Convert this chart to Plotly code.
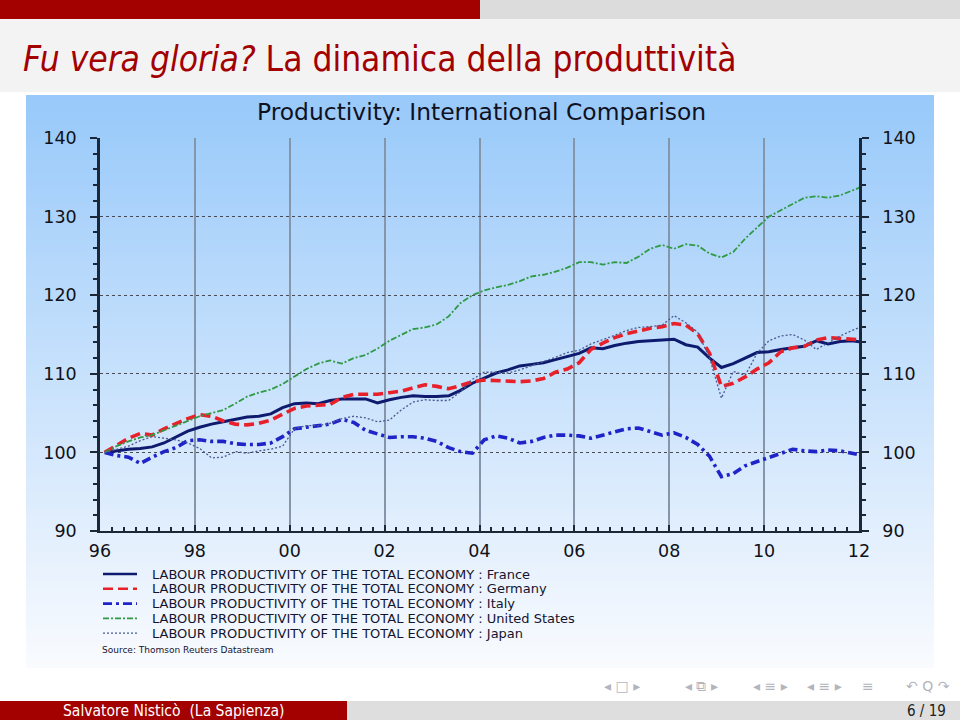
import plotly.graph_objects as go

# ---------------- data ----------------
quarters = [1996.1 + 0.25 * k for k in range(65)]

france = [100.0, 100.2, 100.4, 100.5, 100.7, 101.2, 102.0, 102.7, 103.2, 103.6,
          103.9, 104.2, 104.5, 104.6, 104.9, 105.7, 106.2, 106.3, 106.2, 106.6,
          106.8, 106.8, 106.8, 106.3, 106.7, 107.0, 107.2, 107.1, 107.1, 107.2,
          107.9, 108.8, 109.5, 110.1, 110.5, 111.0, 111.2, 111.4, 111.8, 112.2,
          112.6, 113.3, 113.2, 113.6, 113.9, 114.1, 114.2, 114.3,
          114.4, 113.7, 113.4, 112.0, 110.8, 111.3, 112.0, 112.7, 112.8, 113.1,
          113.3, 113.5, 114.2, 113.8, 114.1, 114.2, 114.0]

germany = [100.0, 100.9, 101.8, 102.4, 102.2, 103.0, 103.7, 104.3, 104.8, 104.6,
           104.0, 103.6, 103.5, 103.7, 104.1, 104.8, 105.6, 105.9, 106.0, 106.1,
           107.0, 107.4, 107.4, 107.4, 107.6, 107.8, 108.2, 108.6, 108.4, 108.1,
           108.5, 109.0, 109.2, 109.1, 109.1, 109.0, 109.1, 109.4, 110.2, 110.6,
           111.4, 113.1, 113.9, 114.6, 115.1, 115.5, 115.8, 116.0,
           116.4, 116.2, 115.1, 112.6, 108.4, 108.8, 109.6, 110.6, 111.4, 112.8,
           113.3, 113.5, 114.3, 114.6, 114.5, 114.5, 114.3]

italy = [100.0, 99.6, 99.4, 98.6, 99.4, 100.1, 100.6, 101.5, 101.6, 101.4,
         101.4, 101.1, 101.0, 101.0, 101.2, 102.0, 103.0, 103.2, 103.3, 103.6,
         104.2, 103.8, 102.8, 102.4, 101.9, 102.0, 102.0, 101.8, 101.4, 100.6,
         100.1, 99.9, 101.6, 102.1, 101.8, 101.2, 101.4, 101.9, 102.2, 102.2,
         102.1, 101.8, 102.2, 102.7, 103.0, 103.1, 102.6, 102.2,
         102.5, 101.9, 101.0, 99.5, 96.9, 97.3, 98.3, 98.8, 99.3, 99.8,
         100.4, 100.2, 100.1, 100.3, 100.2, 99.9, 99.6]

united_states = [100.0, 100.8, 101.4, 101.9, 102.2, 102.8, 103.5, 104.1, 104.6, 105.0,
                 105.4, 106.2, 107.1, 107.6, 108.0, 108.7, 109.6, 110.6, 111.3, 111.7,
                 111.3, 112.0, 112.4, 113.2, 114.2, 115.0, 115.7, 115.9, 116.3, 117.3,
                 119.0, 120.0, 120.6, 121.0, 121.3, 121.8, 122.4, 122.6, 123.0, 123.5,
                 124.2, 124.2, 123.9, 124.2, 124.1, 124.9, 125.9, 126.4,
                 125.9, 126.5, 126.3, 125.3, 124.8, 125.5, 127.2, 128.6, 130.0, 130.8,
                 131.6, 132.4, 132.6, 132.4, 132.7, 133.3, 133.9]

japan = [100.0, 100.4, 100.8, 101.5, 102.0, 101.8, 101.6, 101.2, 100.5, 99.3,
         99.4, 100.1, 99.9, 100.2, 100.4, 100.8, 103.0, 103.4, 103.4, 103.7,
         104.3, 104.6, 104.4, 103.9, 104.1, 105.4, 106.4, 106.7, 106.6, 106.6,
         107.7, 109.3, 110.2, 110.2, 110.1, 110.5, 111.0, 111.5, 112.1, 112.7,
         113.0, 113.8, 114.3, 114.9, 115.5, 115.9, 116.0, 116.2,
         117.4, 116.5, 115.3, 112.0, 106.9, 110.3, 109.8, 112.6, 114.2, 114.8,
         115.0, 114.3, 113.1, 114.0, 114.8, 115.5, 116.1]

series_names = ["LABOUR PRODUCTIVITY OF THE TOTAL ECONOMY : France",
                "LABOUR PRODUCTIVITY OF THE TOTAL ECONOMY : Germany",
                "LABOUR PRODUCTIVITY OF THE TOTAL ECONOMY : Italy",
                "LABOUR PRODUCTIVITY OF THE TOTAL ECONOMY : United States",
                "LABOUR PRODUCTIVITY OF THE TOTAL ECONOMY : Japan"]

x_tick_vals = [1996, 1998, 2000, 2002, 2004, 2006, 2008, 2010, 2012]
x_tick_text = ["96", "98", "00", "02", "04", "06", "08", "10", "12"]
y_tick_vals = [90, 100, 110, 120, 130, 140]

slide_title_it = "Fu vera gloria?"
slide_title = "La dinamica della produttività"
chart_title = "Productivity: International Comparison"
source_text = "Source: Thomson Reuters Datastream"
footer_author = "Salvatore Nisticò  (La Sapienza)"
footer_page = "6 / 19"

# ---------------- styles ----------------
styles = [
    dict(color="#0e1a6e", width=3.0, dash="solid"),
    dict(color="#e8202a", width=3.6, dash="10px,5px"),
    dict(color="#1f24c8", width=3.6, dash="9px,4px,3px,4px"),
    dict(color="#2f9a44", width=1.8, dash="6px,2px,2px,2px"),
    dict(color="#4a5a92", width=1.3, dash="2px,2px"),
]

W, H = 960, 720
L, R, T, B = 100, 859, 138, 531


def fx(x):
    return (x - L) / (R - L)


def fy(y):
    return (B - y) / (B - T)


fig = go.Figure()
all_series = [france, germany, italy, united_states, japan]
for name, vals, st in zip(series_names, all_series, styles):
    fig.add_trace(go.Scatter(x=quarters, y=vals, mode="lines", name=name,
                             line=dict(color=st["color"], width=st["width"], dash=st["dash"]),
                             showlegend=False, hoverinfo="skip"))
# invisible trace to anchor the right-hand axis
fig.add_trace(go.Scatter(x=quarters[:1], y=france[:1], yaxis="y2", mode="markers",
                         marker=dict(opacity=0), showlegend=False, hoverinfo="skip"))

shapes = []


def rect(x0, y0, x1, y1, color):
    shapes.append(dict(type="rect", xref="paper", yref="paper", layer="below",
                       x0=fx(x0), x1=fx(x1), y0=fy(y1), y1=fy(y0),
                       fillcolor=color, line=dict(width=0)))


# slide decorations
rect(0, 0, 480, 19, "#a30000")
rect(480, 0, 960, 19, "#dcdcdc")
rect(0, 19, 960, 92, "#f3f3f3")
# chart background gradient
top_c = (152, 201, 250)
bot_c = (250, 251, 254)
y_start, y_end, step = 95, 668, 6
yy = y_start
while yy < y_end:
    t = (yy - y_start) / (y_end - y_start)
    c = tuple(int(round(top_c[i] + (bot_c[i] - top_c[i]) * t)) for i in range(3))
    rect(26, yy, 934, min(yy + step + 0.5, y_end), "rgb(%d,%d,%d)" % c)
    yy += step
rect(0, 701, 347, 720, "#a30000")
rect(347, 701, 960, 720, "#dedede")

annotations = []
# legend
leg_y0, leg_dy = 574, 14.8
for i, (name, st) in enumerate(zip(series_names, styles)):
    ly = leg_y0 + i * leg_dy
    shapes.append(dict(type="line", xref="paper", yref="paper", layer="above",
                       x0=fx(103), x1=fx(137), y0=fy(ly), y1=fy(ly),
                       line=dict(color=st["color"], width=min(st["width"], 2.6), dash=st["dash"])))
    annotations.append(dict(text=name, x=fx(150), y=fy(ly), xref="paper", yref="paper",
                            xanchor="left", yanchor="middle", showarrow=False,
                            font=dict(family="DejaVu Sans", size=13, color="#14142e")))

annotations.append(dict(text=source_text, x=fx(100), y=fy(650), xref="paper", yref="paper",
                        xanchor="left", yanchor="middle", showarrow=False,
                        font=dict(family="DejaVu Sans", size=9, color="#14142e")))
annotations.append(dict(text=chart_title, x=fx(481), y=fy(112), xref="paper", yref="paper",
                        xanchor="center", yanchor="middle", showarrow=False,
                        font=dict(family="DejaVu Sans", size=23.4, color="#10101e")))
annotations.append(dict(text="<i>" + slide_title_it + "</i> " + slide_title,
                        x=fx(21), y=fy(59), xref="paper", yref="paper",
                        xanchor="left", yanchor="middle", showarrow=False,
                        font=dict(family="DejaVu Sans Condensed, Liberation Sans Narrow, sans-serif",
                                  size=35, color="#a30000")))
annotations.append(dict(text=footer_author, x=fx(173), y=fy(711), xref="paper", yref="paper",
                        xanchor="center", yanchor="middle", showarrow=False,
                        font=dict(family="DejaVu Sans Condensed, Liberation Sans Narrow, sans-serif",
                                  size=15.5, color="white")))
annotations.append(dict(text=footer_page, x=fx(948), y=fy(711), xref="paper", yref="paper",
                        xanchor="right", yanchor="middle", showarrow=False,
                        font=dict(family="DejaVu Sans Condensed, Liberation Sans Narrow, sans-serif",
                                  size=15, color="#202020")))
nav = [("◂ □ ▸", 622), ("◂ ⧉ ▸", 701), ("◂ ≡ ▸", 770), ("◂ ≡ ▸", 824), ("≡", 868), ("↶ Q ↷", 928)]
for txt, xc in nav:
    annotations.append(dict(text=txt, x=fx(xc), y=fy(686), xref="paper", yref="paper",
                            xanchor="center", yanchor="middle", showarrow=False,
                            font=dict(family="DejaVu Sans", size=14, color="#b4b4bc")))

axis_col = "#1c2838"
tick_font = dict(family="DejaVu Sans", size=17.5, color="#111118")

fig.update_layout(
    width=W, height=H,
    margin=dict(l=L, r=W - R, t=T, b=H - B, pad=0),
    paper_bgcolor="white", plot_bgcolor="rgba(0,0,0,0)",
    shapes=shapes, annotations=annotations, showlegend=False,
    xaxis=dict(range=[1996, 2012], tickvals=x_tick_vals, ticktext=x_tick_text,
               showline=True, linecolor=axis_col, linewidth=2,
               ticks="inside", ticklen=6, tickwidth=1.5, tickcolor=axis_col,
               minor=dict(dtick=0.25, tick0=1996, ticks="inside", ticklen=4, tickcolor=axis_col, showgrid=False),
               showgrid=True, gridcolor="#8596ab", gridwidth=1.5,
               zeroline=False, tickfont=tick_font, ticklabelstandoff=3, fixedrange=True),
    yaxis=dict(range=[90, 140], tickvals=y_tick_vals,
               showline=True, linecolor=axis_col, linewidth=2.5,
               ticks="outside", ticklen=7, tickwidth=2, tickcolor=axis_col,
               minor=dict(dtick=2, tick0=90, ticks="outside", ticklen=4, tickcolor=axis_col, showgrid=False),
               showgrid=True, gridcolor="#4a4a55", gridwidth=1, griddash="dot",
               zeroline=False, tickfont=tick_font, ticklabelstandoff=10, fixedrange=True),
    yaxis2=dict(range=[90, 140], tickvals=y_tick_vals, overlaying="y", side="right",
                showline=True, linecolor=axis_col, linewidth=2.5,
                ticks="outside", ticklen=7, tickwidth=2, tickcolor=axis_col,
                minor=dict(dtick=2, tick0=90, ticks="outside", ticklen=4, tickcolor=axis_col, showgrid=False),
                showgrid=False, zeroline=False, tickfont=tick_font, ticklabelstandoff=10, fixedrange=True),
)

fig.write_html("out.html")
